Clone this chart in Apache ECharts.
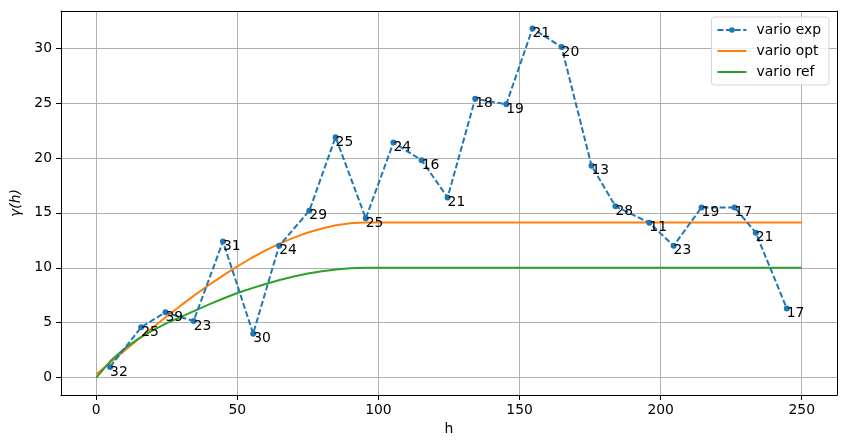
<!DOCTYPE html>
<html>
<head>
<meta charset="utf-8">
<script src="https://cdn.jsdelivr.net/npm/echarts@6/dist/echarts.min.js"></script>
<style>
  html, body { margin: 0; padding: 0; background: #fff; }
  #chart { width: 845px; height: 448px; }
</style>
</head>
<body>
<div id="chart"></div>
<script>
// experimental variogram: mean lag, gamma, number of pairs
const lagH = [4.9, 15.9, 24.5, 34.5, 44.9, 55.6, 64.8, 75.5, 84.8, 95.5, 105.3, 115.3, 124.5,
  134.3, 145.3, 154.6, 164.9, 175.5, 184.0, 196.0, 204.6, 214.5, 226.2, 233.7, 244.7]
const gammaExp = [0.97, 4.58, 5.94, 5.15, 12.4, 4.0, 12.0, 15.2, 21.9, 14.5, 21.4, 19.8, 16.4,
  25.4, 24.9, 31.8, 30.1, 19.3, 15.6, 14.1, 12.0, 15.5, 15.5, 13.2, 6.3]
const pairCount = [32, 25, 39, 23, 31, 30, 24, 29, 25, 25, 24, 16, 21,
  18, 19, 21, 20, 13, 28, 11, 23, 19, 17, 21, 17]

// model curves
const modelH = [0, 5, 10, 15, 20, 25, 30, 35, 40, 45, 50, 55, 60, 65, 70, 75, 80, 85, 90, 95, 100, 250]
const gammaOpt = [0.3, 1.38, 2.45, 3.52, 4.56, 5.58, 6.57, 7.53, 8.44, 9.31, 10.13, 10.89, 11.58,
  12.2, 12.75, 13.21, 13.58, 13.87, 14.05, 14.12, 14.13, 14.13]
const gammaRef = [0, 1.5, 2.65, 3.55, 4.3, 4.95, 5.52, 6.1, 6.67, 7.2, 7.7, 8.12, 8.52,
  8.88, 9.2, 9.47, 9.68, 9.84, 9.95, 10.0, 10.0, 10.0]

const xTicks = [0, 50, 100, 150, 200, 250]
const yTicks = [0, 5, 10, 15, 20, 25, 30]

const font = 'DejaVu Sans'
const chart = echarts.init(document.getElementById('chart'), null, { renderer: 'canvas' })

const pair = (xs, ys) => xs.map((x, i) => [x, ys[i]])
const lineIcon = 'path://M0,0 L29,0 L29,2 L0,2 Z'

const option = {
  animation: false,
  backgroundColor: '#fff',
  textStyle: { fontFamily: font },
  grid: { left: 61, right: 8, top: 11, bottom: 53 },
  legend: {
    orient: 'vertical',
    right: 16,
    top: 17,
    padding: [5, 8, 5, 5],
    itemWidth: 29,
    itemHeight: 7,
    itemGap: 5,
    backgroundColor: 'rgba(255,255,255,0.8)',
    borderColor: '#d5d5d5',
    borderWidth: 1,
    borderRadius: 3,
    textStyle: { fontFamily: font, fontSize: 13.9, lineHeight: 16, color: '#000', padding: [0, 0, 0, 5] },
    data: [
      { name: 'vario exp' },
      { name: 'vario opt', icon: lineIcon },
      { name: 'vario ref', icon: lineIcon }
    ]
  },
  xAxis: [{
    type: 'value',
    min: -12.5,
    max: 262.5,
    name: 'h',
    nameLocation: 'middle',
    nameGap: 27,
    nameTextStyle: { fontFamily: font, fontSize: 13.9, color: '#000' },
    axisLine: { show: true, onZero: false, lineStyle: { color: '#000', width: 1 } },
    axisTick: { show: true, length: 5, customValues: xTicks, lineStyle: { color: '#000' } },
    axisLabel: { fontFamily: font, fontSize: 13.9, color: '#000', margin: 8, customValues: xTicks },
    splitLine: { show: true, customValues: xTicks, lineStyle: { color: '#b0b0b0', width: 1 } }
  }, {
    type: 'value', position: 'top', min: -12.5, max: 262.5,
    axisLine: { show: true, onZero: false, lineStyle: { color: '#000', width: 1 } },
    axisTick: { show: false }, axisLabel: { show: false }, splitLine: { show: false }
  }],
  yAxis: [{
    type: 'value',
    min: -1.59,
    max: 33.39,
    name: 'γ(h)',
    nameLocation: 'middle',
    nameGap: 36,
    nameTextStyle: { fontFamily: font, fontSize: 13.9, color: '#000', fontStyle: 'italic' },
    axisLine: { show: true, onZero: false, lineStyle: { color: '#000', width: 1 } },
    axisTick: { show: true, length: 5, customValues: yTicks, lineStyle: { color: '#000' } },
    axisLabel: { fontFamily: font, fontSize: 13.9, color: '#000', margin: 9, customValues: yTicks },
    splitLine: { show: true, customValues: yTicks, lineStyle: { color: '#b0b0b0', width: 1 } }
  }, {
    type: 'value', position: 'right', min: -1.59, max: 33.39,
    axisLine: { show: true, onZero: false, lineStyle: { color: '#000', width: 1 } },
    axisTick: { show: false }, axisLabel: { show: false }, splitLine: { show: false }
  }],
  series: [{
    name: 'vario exp',
    type: 'line',
    data: pair(lagH, gammaExp),
    color: '#1f77b4',
    symbol: 'circle',
    symbolSize: 6,
    lineStyle: { width: 2, type: [6, 2.6] },
    itemStyle: { color: '#1f77b4' },
    z: 3,
    label: {
      show: true,
      position: [3, 1],
      align: 'left',
      verticalAlign: 'top',
      fontFamily: font,
      fontSize: 13.9,
      color: '#000',
      formatter: (p) => String(pairCount[p.dataIndex])
    }
  }, {
    name: 'vario opt',
    type: 'line',
    data: pair(modelH, gammaOpt),
    showSymbol: false,
    symbol: 'none',
    color: '#ff7f0e',
    lineStyle: { width: 2, color: '#ff7f0e' },
    z: 2
  }, {
    name: 'vario ref',
    type: 'line',
    data: pair(modelH, gammaRef),
    showSymbol: false,
    symbol: 'none',
    color: '#2ca02c',
    lineStyle: { width: 2, color: '#2ca02c' },
    z: 2
  }]
}

chart.setOption(option)
</script>
</body>
</html>
